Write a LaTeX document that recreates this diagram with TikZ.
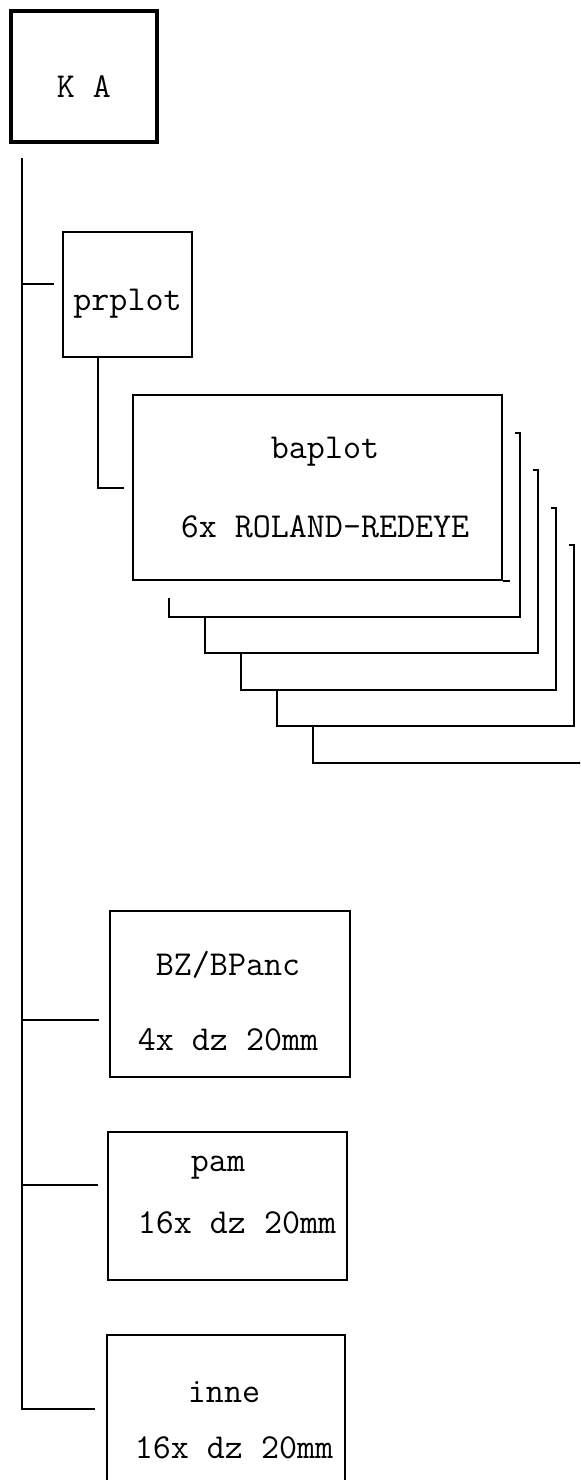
\documentclass[tikz,border=0pt]{standalone}
\usepackage{tikz}
\usetikzlibrary{positioning,calc}

\begin{document}
\begin{tikzpicture}[x=0.5pt, y=-0.5pt, line width=1pt,
    kasten/.style={draw, inner sep=0pt},
    schrift/.style={font=\fontsize{17.5}{20}\selectfont\ttfamily}]
    \useasboundingbox (0,0) rectangle (580,1480);
    \clip (0,0) rectangle (580,1480);

    % 顶部 KA 框（粗线）
    \node[kasten, schrift, line width=2pt, minimum width=73pt, minimum height=65.5pt,
          text height=21pt, text depth=0pt] (ka) at (84,76.5) {K A};

    % prplot 框
    \node[kasten, schrift, minimum width=64.5pt, minimum height=62.5pt,
          text height=20pt, text depth=4pt] (prplot) at (127.5,294.5) {prplot};

    % 后面叠放的几层（只画露出的边）
    \foreach \k in {1,...,5} {
        \pgfmathsetmacro{\xr}{502+18*\k}
        \pgfmathsetmacro{\xl}{133+36*\k}
        \pgfmathsetmacro{\yt}{395+37.5*\k}
        \pgfmathsetmacro{\yb}{580+36.6*\k}
        \pgfmathsetmacro{\yo}{\k==1 ? 598 : \yb-36.6}
        \draw (\xr-5,\yt) -- (\xr,\yt) -- (\xr,\yb) -- (\xl,\yb) -- (\xl,\yo);
    }

    % baplot 框（最前面一层）
    \node[kasten, minimum width=184.5pt, minimum height=92.5pt] (baplot) at (317.5,487.5) {};
    \node[schrift] (baplot-t1) at (325,452) {baplot};
    \node[schrift] (baplot-t2) at (325,527) {6x ROLAND-REDEYE};
    \draw (baplot.south east) -- ++(7,0);

    % BZ/BPanc 框
    \node[kasten, minimum width=120pt, minimum height=83pt] (bz) at (230,994) {};
    \node[schrift] (bz-t1) at (228,965) {BZ/BPanc};
    \node[schrift] (bz-t2) at (228,1040) {4x dz 20mm};

    % pam 框
    \node[kasten, minimum width=119.5pt, minimum height=74pt] (pam) at (227.5,1206) {};
    \node[schrift] (pam-t1) at (218,1168) {pam};
    \node[schrift] (pam-t2) at (237,1223) {16x dz 20mm};

    % inne 框（下边被裁掉）
    \node[kasten, minimum width=119pt, minimum height=82.5pt] (inne) at (226,1417.5) {};
    \node[schrift] (inne-t1) at (224,1392) {inne};
    \node[schrift] (inne-t2) at (234,1448) {16x dz 20mm};

    % 连线：左侧主干和分支
    \coordinate (stamm) at (22,158);
    \coordinate (prplot-ein) at ([xshift=-4pt,yshift=5.25pt]prplot.west);
    \coordinate (bz-ein) at ([xshift=-5pt,yshift=-13pt]bz.west);
    \coordinate (pam-ein) at ([xshift=-4.5pt,yshift=10.5pt]pam.west);
    \coordinate (inne-ein) at ([xshift=-5.5pt,yshift=4.25pt]inne.west);
    \draw (stamm) |- (inne-ein);
    \draw (stamm |- prplot-ein) -- (prplot-ein);
    \draw (stamm |- bz-ein) -- (bz-ein);
    \draw (stamm |- pam-ein) -- (pam-ein);

    % prplot 到 baplot
    \draw ([xshift=-14.75pt]prplot.south) |- ([xshift=-4pt]baplot.west);
\end{tikzpicture}
\end{document}
